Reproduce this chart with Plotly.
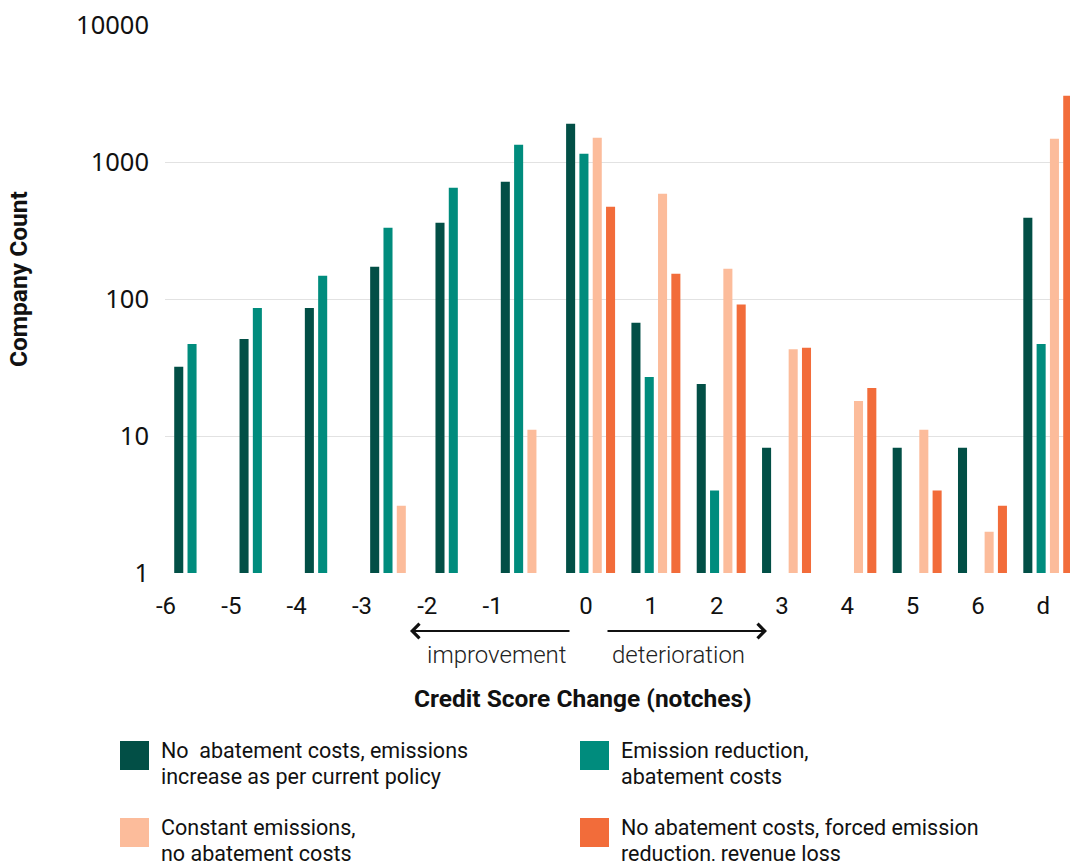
import plotly.graph_objects as go

categories = ["-6", "-5", "-4", "-3", "-2", "-1", "0", "1", "2", "3", "4", "5", "6", "d"]
s_current_policy = [32, 51, 86, 172, 360, 718, 1905, 67, 24, 8.2, None, 8.2, 8.2, 392]
s_emission_reduction = [47, 86, 148, 331, 649, 1337, 1150, 27, 4.0, None, None, None, None, 47]
s_constant = [None, None, None, 3.1, None, 11.1, 1504, 587, 166, 43, 18, 11.1, 2.0, 1480]
s_forced = [None, None, None, None, None, None, 471, 153, 91, 44, 22.4, 4.0, 3.1, 3049]

series_names = [
    ["No  abatement costs, emissions", "increase as per current policy"],
    ["Emission reduction,", "abatement costs"],
    ["Constant emissions,", "no abatement costs"],
    ["No abatement costs, forced emission", "reduction, revenue loss"],
]
colors = ["#024f46", "#008c7d", "#fcbc9b", "#f26c3a"]
y_ticks = [1, 10, 100, 1000, 10000]

W, H = 1070, 861
L, R, T, B = 165, 0, 25, 288
PW, PH = W - L - R, H - T - B


def px(x):
    return (x - L) / PW


def py(y):
    return (H - B - y) / PH


FONT = "Roboto"
fig = go.Figure()
idx = list(range(len(categories)))
for vals, name, col in zip([s_current_policy, s_emission_reduction, s_constant, s_forced], series_names, colors):
    fig.add_trace(go.Bar(x=idx, y=vals, name=" ".join(name), marker=dict(color=col, line=dict(width=0)),
                         showlegend=False))

tickvals = [i - 0.5 if i < 6 else i - 0.07 for i in idx]

fig.update_layout(
    width=W, height=H,
    margin=dict(l=L, r=R, t=T, b=B, pad=0),
    paper_bgcolor="white", plot_bgcolor="white",
    barmode="group", bargap=0.185, bargroupgap=0.32,
    font=dict(family=FONT, color="#111111"),
    xaxis=dict(
        range=[-0.516, 13.34], tickvals=tickvals, ticktext=categories,
        showgrid=False, zeroline=False, showline=False, ticks="",
        tickfont=dict(family=FONT, size=24, color="#111111"), ticklabelstandoff=16,
    ),
    yaxis=dict(
        type="log", range=[0, 4], tickvals=y_ticks, ticktext=[str(v) for v in y_ticks],
        showgrid=True, gridcolor="#e2e2e2", gridwidth=1.3, zeroline=False, showline=False, ticks="",
        tickfont=dict(family="Noto Sans", size=25.5, color="#111111"), ticklabelstandoff=15,
    ),
)

ann = []
ann.append(dict(x=px(18), y=py(279), xref="paper", yref="paper", text="<b>Company Count</b>",
                textangle=-90, showarrow=False, font=dict(family=FONT, size=24.5, color="#111111"),
                xanchor="center", yanchor="middle"))
ann.append(dict(x=px(583), y=py(698), xref="paper", yref="paper", text="<b>Credit Score Change (notches)</b>",
                showarrow=False, font=dict(family=FONT, size=24.5, color="#111111"),
                xanchor="center", yanchor="middle"))
ann.append(dict(x=px(497), y=py(655), xref="paper", yref="paper", text="improvement",
                showarrow=False, font=dict(family=FONT, size=24, color="#222222", weight=300),
                xanchor="center", yanchor="middle"))
ann.append(dict(x=px(678), y=py(655), xref="paper", yref="paper", text="deterioration",
                showarrow=False, font=dict(family=FONT, size=24, color="#222222", weight=300),
                xanchor="center", yanchor="middle"))
# arrows
ann.append(dict(x=px(410), y=py(631), xref="paper", yref="paper", ax=161, ay=0, axref="pixel", ayref="pixel",
                showarrow=True, arrowhead=4, arrowsize=1.4, arrowwidth=2, arrowcolor="#111111", text=""))
ann.append(dict(x=px(767), y=py(631), xref="paper", yref="paper", ax=-161, ay=0, axref="pixel", ayref="pixel",
                showarrow=True, arrowhead=4, arrowsize=1.4, arrowwidth=2, arrowcolor="#111111", text=""))

shapes = []
legend_pos = [(120, 741), (580, 741), (120, 818), (580, 818)]
for (lx, ly), name, col in zip(legend_pos, series_names, colors):
    shapes.append(dict(type="rect", xref="paper", yref="paper",
                       x0=px(lx), x1=px(lx + 29), y0=py(ly), y1=py(ly + 29),
                       fillcolor=col, line=dict(width=0)))
    for k, line in enumerate(name):
        ann.append(dict(x=px(lx + 39), y=py(ly + 9 + 26 * k), xref="paper", yref="paper", text=line,
                        showarrow=False, align="left", xanchor="left", yanchor="middle",
                        font=dict(family=FONT, size=21.5, color="#111111")))

fig.update_layout(annotations=ann, shapes=shapes)
fig.write_html("out.html")
